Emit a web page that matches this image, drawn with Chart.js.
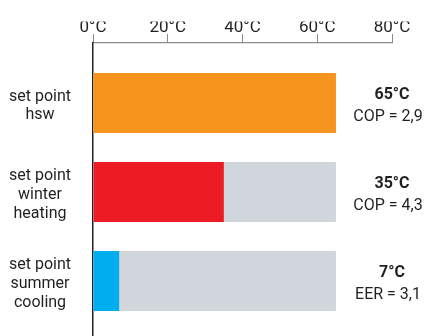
<!DOCTYPE html>
<html>
<head>
<meta charset="utf-8">
<script src="https://cdn.jsdelivr.net/npm/chart.js@4.4.1/dist/chart.umd.min.js"></script>
<style>
  html, body { margin: 0; padding: 0; background: #ffffff; }
  #wrap { width: 430px; height: 336px; position: relative; }
</style>
</head>
<body>
<div id="wrap"><canvas id="chart"></canvas></div>
<script>
// Set point categories (multi-line axis labels)
const categories = [
  ["set point", "hsw"],
  ["set point", "winter", "heating"],
  ["set point", "summer", "cooling"]
];
// Set point temperatures in °C
const setPoints = [65, 35, 7];
// Full range shown behind each set point, °C
const rangeMax = [65, 65, 65];
// Efficiency figures printed at the right of each row
const ratioNames = ["COP", "COP", "EER"];
const ratioValues = ["2,9", "4,3", "3,1"];
// Temperature axis ticks
const xTicks = [0, 20, 40, 60, 80];

const barColors = ["#F7941D", "#ED1C24", "#00AEEF"];
const FONT = "Roboto, 'Liberation Sans', sans-serif";
const INK = "#231f20";

const rowIndex = categories.map((_, i) => i);

// Temperature and efficiency text beside each row
const valueLabels = {
  id: 'valueLabels',
  afterDatasetsDraw(chart) {
    const { ctx } = chart;
    const y = chart.scales.y;
    ctx.save();
    ctx.fillStyle = INK;
    ctx.textAlign = 'center';
    ctx.textBaseline = 'middle';
    rowIndex.forEach(i => {
      const cy = y.getPixelForValue(i);
      ctx.font = "bold 16px " + FONT;
      ctx.fillText(setPoints[i] + "°C", 392, cy - 8);
      ctx.font = "16px " + FONT;
      ctx.fillText(ratioNames[i] + " = " + ratioValues[i], 388, cy + 14);
    });
    ctx.restore();
  }
};

new Chart(document.getElementById('chart'), {
  type: 'bar',
  data: {
    datasets: [
      {
        label: 'set point',
        data: rowIndex.map(i => ({ x: setPoints[i], y: i })),
        backgroundColor: barColors,
        grouped: false,
        order: 1,
        barPercentage: 0.674,
        categoryPercentage: 1
      },
      {
        label: 'range',
        data: rowIndex.map(i => ({ x: rangeMax[i], y: i })),
        backgroundColor: "#D1D5DC",
        grouped: false,
        order: 2,
        barPercentage: 0.674,
        categoryPercentage: 1
      }
    ]
  },
  options: {
    indexAxis: 'y',
    responsive: true,
    maintainAspectRatio: false,
    animation: false,
    layout: { padding: { top: 21.6, right: 38, bottom: 0, left: 0 } },
    plugins: {
      legend: { display: false },
      tooltip: { enabled: false }
    },
    scales: {
      x: {
        type: 'linear',
        position: 'top',
        min: 0,
        max: 80,
        afterBuildTicks: s => { s.ticks = xTicks.map(v => ({ value: v })); },
        ticks: {
          callback: v => v + "°C",
          color: INK,
          padding: -4,
          font: { family: FONT, size: 17 }
        },
        grid: {
          drawOnChartArea: false,
          drawTicks: true,
          tickLength: 9,
          color: "#8a8a8a",
          lineWidth: 1
        },
        border: { display: true, color: "#8a8a8a", width: 1.2 }
      },
      y: {
        type: 'linear',
        reverse: true,
        offset: false,
        min: -0.674,
        max: 2.618,
        afterBuildTicks: s => { s.ticks = rowIndex.map(v => ({ value: v })); },
        afterFit: s => { s.width = 93; s.paddingTop = 0; s.paddingBottom = 0; },
        ticks: {
          callback: v => categories[v],
          color: INK,
          crossAlign: 'center',
          padding: 14,
          labelOffset: 3,
          font: { family: FONT, size: 16, lineHeight: 1.16 }
        },
        grid: { display: false },
        border: { display: true, color: INK, width: 1.5 }
      }
    }
  },
  plugins: [valueLabels]
});
</script>
</body>
</html>
